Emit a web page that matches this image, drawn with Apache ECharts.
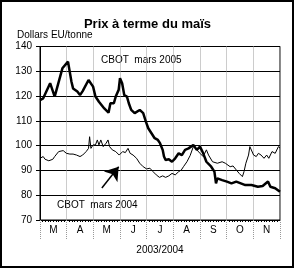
<!DOCTYPE html>
<html>
<head>
<meta charset="utf-8">
<script src="https://cdn.jsdelivr.net/npm/echarts@6/dist/echarts.min.js"></script>
<style>
  html, body { margin: 0; padding: 0; background: #fff; }
  #chart { width: 295px; height: 269px; }
</style>
</head>
<body>
<div id="chart"></div>
<script>
// position along the x axis in months from 1 March (0 = début mars, 9 = fin novembre)
const monthLabels = ['M', 'A', 'M', 'J', 'J', 'A', 'S', 'O', 'N'];

// CBOT mars 2005 (trait épais)
const t2005 = [0, 0.12, 0.38, 0.55, 0.62, 0.84, 1.05, 1.10, 1.18, 1.24, 1.31, 1.40, 1.50, 1.60, 1.82, 1.88, 1.99,
  2.08, 2.21, 2.41, 2.57, 2.64, 2.71, 2.77, 2.84, 2.95, 3.0, 3.08, 3.16, 3.26, 3.33, 3.42, 3.55, 3.74, 3.87, 3.97,
  4.06, 4.18, 4.30, 4.42, 4.50, 4.60, 4.65, 4.71, 4.83, 4.95, 5.07, 5.20, 5.32, 5.44, 5.57, 5.75, 5.88, 6.0,
  6.12, 6.24, 6.42, 6.54, 6.60, 6.65, 6.83, 7.01, 7.18, 7.36, 7.53, 7.70, 7.93, 8.17, 8.35, 8.55, 8.64, 8.82, 9.0];
const corn2005 = [118.4, 119.1, 125.2, 119.8, 120.4, 131.2, 133.9, 134.1, 125.8, 123.1, 123.8, 121.8, 120.4, 122, 126.5, 126.9, 123.8,
  119.8, 117.7, 115, 113.3, 117.1, 117.7, 117.1, 119.8, 122.5, 127.2, 125.2, 120.4, 119.8, 117.1, 114.4, 113.1, 114.4, 113.1, 109.7,
  107, 105, 103, 102.3, 101, 98.3, 95.6, 94.2, 94.5, 93.5, 94.9, 96.9, 96.2, 98.3, 98.9, 100.3, 98.3, 99.6,
  96.9, 93.5, 91.5, 89.5, 84.8, 86.8, 86.1, 85.5, 84.8, 85.5, 84.8, 84.1, 84.1, 83.4, 83.7, 85.5, 83.4, 82.8, 81.4];

// CBOT mars 2004 (trait fin)
const t2004 = [0, 0.12, 0.19, 0.33, 0.48, 0.55, 0.62, 0.70, 0.77, 0.87, 0.99, 1.12, 1.24, 1.37, 1.50, 1.60, 1.73, 1.82, 1.86, 1.91, 1.99,
  2.08, 2.15, 2.21, 2.28, 2.37, 2.48, 2.55, 2.61, 2.71, 2.84, 2.97, 3.10, 3.20, 3.30, 3.38, 3.49, 3.62, 3.74, 3.87,
  4.0, 4.12, 4.24, 4.36, 4.48, 4.60, 4.71, 4.83, 4.95, 5.07, 5.20, 5.30, 5.38, 5.51, 5.63, 5.75, 5.88,
  6.0, 6.12, 6.24, 6.32, 6.47, 6.65, 6.83, 6.95, 7.13, 7.24, 7.36, 7.47, 7.59, 7.65, 7.72, 7.82, 7.87, 7.93,
  8.01, 8.11, 8.19, 8.29, 8.40, 8.50, 8.58, 8.70, 8.82, 8.94, 9.0];
const corn2004 = [94.9, 95.6, 94.5, 93.9, 94.5, 95.6, 96.2, 97.6, 96.9, 98, 96.9, 96.6, 96.6, 96.2, 95.6, 96.2, 97.6, 98.9, 103.6, 98.9, 100.3,
  100.3, 102.3, 100.3, 102.3, 99.6, 101, 102.3, 99.6, 98.3, 97.6, 96.2, 97.6, 97.2, 98.9, 96.9, 96.2, 94.9, 92.9, 91.5,
  90.6, 90.9, 89.5, 88.2, 87.2, 87.8, 87.2, 87.8, 88.8, 88.2, 89.5, 90.2, 91.5, 93.5, 96, 99.6, 98.3,
  96.9, 95.6, 98.3, 96.2, 93.5, 92.9, 93.5, 92.9, 91.5, 91.8, 90.2, 88.8, 87.5, 89.5, 92.9, 96.2, 99.6, 99.9,
  96.2, 95.6, 96.9, 96.2, 94.9, 96.2, 94.9, 97.6, 96.9, 99.6, 99];

// flèche vers la courbe 2004
const arrowFrom = [2.32, 82.9];
const arrowTo = [2.95, 91.5];

const font = 'Liberation Sans, Arial, sans-serif';
const chart = echarts.init(document.getElementById('chart'));

const option = {
  animation: false,
  backgroundColor: '#fff',
  textStyle: { fontFamily: font, color: '#000' },
  title: {
    text: 'Prix à terme du maïs',
    left: 'center',
    top: 13,
    textStyle: { fontFamily: font, fontSize: 13, fontWeight: 'bold', color: '#000' }
  },
  graphic: [
    { type: 'rect', shape: { x: 1, y: 1, width: 292, height: 266 }, style: { fill: null, stroke: '#000', lineWidth: 2 }, silent: true },
    { type: 'text', left: 17, top: 30, style: { text: 'Dollars EU/tonne', font: '10px ' + font, fill: '#000' } },
    { type: 'text', left: 101, top: 55, style: { text: 'CBOT  mars 2005', font: '10px ' + font, fill: '#000' } },
    { type: 'text', left: 57, top: 200, style: { text: 'CBOT  mars 2004', font: '10px ' + font, fill: '#000' } }
  ],
  grid: { left: 40, right: 15, top: 46.5, bottom: 49, show: true, borderColor: '#000', borderWidth: 1 },
  xAxis: [
    {
      type: 'value', min: 0, max: 9, interval: 1,
      axisLine: { lineStyle: { color: '#000', width: 1 } },
      axisTick: { length: 20, lineStyle: { color: '#999', type: 'dotted' } },
      minorTick: { show: true, splitNumber: 10, length: 2, lineStyle: { color: '#000' } },
      axisLabel: { show: false },
      splitLine: { show: true, lineStyle: { color: '#999', type: 'dotted' } }
    },
    {
      type: 'category', data: monthLabels, position: 'bottom', offset: 0,
      axisLine: { show: false }, axisTick: { show: false },
      axisLabel: { margin: 5, fontSize: 10, color: '#000', fontFamily: font },
      name: '2003/2004', nameLocation: 'middle', nameGap: 25,
      nameTextStyle: { fontSize: 10, color: '#000', fontFamily: font }
    }
  ],
  yAxis: {
    type: 'value', min: 70, max: 140, interval: 10,
    axisLine: { show: true, lineStyle: { color: '#000' } },
    axisTick: { show: true, length: 4, lineStyle: { color: '#000' } },
    axisLabel: { margin: 8, fontSize: 10, color: '#000', fontFamily: font },
    splitLine: { show: true, lineStyle: { color: '#000', width: 1 } }
  },
  series: [
    {
      name: 'CBOT mars 2005', type: 'line', xAxisIndex: 0, showSymbol: false,
      data: t2005.map((t, i) => [t, corn2005[i]]),
      lineStyle: { color: '#000', width: 2.5 }
    },
    {
      name: 'CBOT mars 2004', type: 'line', xAxisIndex: 0, showSymbol: false,
      data: t2004.map((t, i) => [t, corn2004[i]]),
      lineStyle: { color: '#000', width: 1 },
      markLine: {
        silent: true, symbol: ['none', 'arrow'], symbolSize: 13,
        label: { show: false },
        lineStyle: { color: '#000', width: 1.5, type: 'solid' },
        data: [[{ coord: arrowFrom }, { coord: arrowTo }]]
      }
    }
  ]
};

chart.setOption(option);
</script>
</body>
</html>
